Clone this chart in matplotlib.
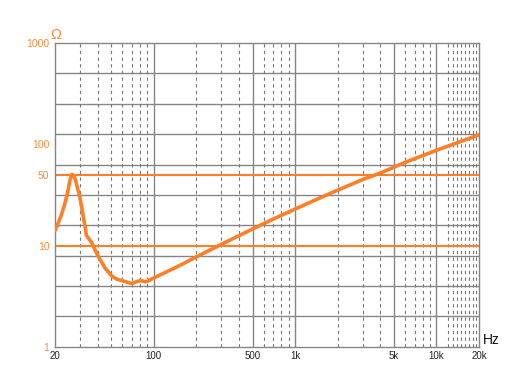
import matplotlib
matplotlib.use("Agg")
import matplotlib.pyplot as plt

# ---- data ----
freq_hz = [20, 21, 22, 23.4, 24.5, 25.5, 26.3, 27.1, 27.9, 28.8, 30.1, 31.8, 33.4,
           35, 36.4, 38.5, 40.6, 45.3, 50.6, 55, 60, 70, 75, 80, 89, 100, 150,
           200, 300, 500, 700, 1000, 1500, 2000, 3000, 4000, 6000, 10000, 20000]
impedance_ohm = [14.1, 16.5, 19.5, 25.5, 33.0, 44.0, 50.5, 49.5, 44.5, 37.5, 29.3,
                 19.0, 12.6, 11.5, 10.7, 9.0, 7.8, 5.98, 5.0, 4.66, 4.5, 4.22,
                 4.4, 4.52, 4.41, 4.8, 6.3, 7.75, 10.3, 14.6, 18.3, 23.0, 29.6,
                 35.3, 44.9, 52.0, 66.4, 87.3, 124]

x_tick_vals = [20, 100, 500, 1000, 5000, 10000, 20000]
x_tick_labels = ["20", "100", "500", "1k", "5k", "10k", "20k"]
y_tick_vals = [1, 10, 50, 100, 1000]
y_tick_labels = ["1", "10", "50", "100", "1000"]
ref_lines = [10, 50]

h_grid = [2.0, 3.98, 7.94, 15.85, 31.6, 63.1, 125.9, 251.2, 501.2]
v_solid = [100, 500, 1000, 5000, 10000]
v_dashed = [30, 40, 50, 60, 70, 80, 90, 200, 300, 400, 600, 700, 800, 900,
            2000, 3000, 4000, 6000, 7000, 8000, 9000,
            12000, 13000, 14000, 15000, 16000, 17000, 18000, 19000]

ORANGE = "#ff7f27"
LABEL_OR = "#ff8a3d"
GRID = "#858585"

plt.rcParams['font.family'] = ['Liberation Sans', 'DejaVu Sans']

fig = plt.figure(figsize=(5.19, 3.89), dpi=100)
ax = fig.add_axes([55/519, 42/389, 424/519, 304/389])
ax.set_xscale('log')
ax.set_yscale('log')
ax.set_xlim(20, 20000)
ax.set_ylim(1, 1000)

for v in h_grid:
    ax.axhline(v, color=GRID, lw=1.0, zorder=1)
for v in v_solid:
    ax.axvline(v, color=GRID, lw=1.0, zorder=1)
for v in v_dashed:
    ax.axvline(v, color="#777777", lw=0.8, ls=(0, (3, 3)), zorder=1)
for v in ref_lines:
    ax.axhline(v, color=ORANGE, lw=1.5, zorder=2)

ax.plot(freq_hz, impedance_ohm, color=ORANGE, lw=2.6, zorder=3,
        solid_joinstyle='round', solid_capstyle='round')

for s in ax.spines.values():
    s.set_color(GRID)
    s.set_linewidth(1.0)

ax.minorticks_off()
ax.set_xticks(x_tick_vals)
ax.set_xticklabels(x_tick_labels, fontsize=7, color="#222222")
ax.set_yticks(y_tick_vals)
ax.set_yticklabels(y_tick_labels, fontsize=7.5, color=LABEL_OR)
ax.tick_params(axis='both', length=0, pad=4)
ax.tick_params(axis='x', pad=3)

ax.text(-0.01, 1.003, "Ω", transform=ax.transAxes, color=LABEL_OR, fontsize=10.5,
        ha='left', va='bottom')
ax.text(1.008, 0.0, "Hz", transform=ax.transAxes, color="#111111", fontsize=10,
        ha='left', va='bottom')

fig.savefig("out.png", dpi=100, facecolor='white')
